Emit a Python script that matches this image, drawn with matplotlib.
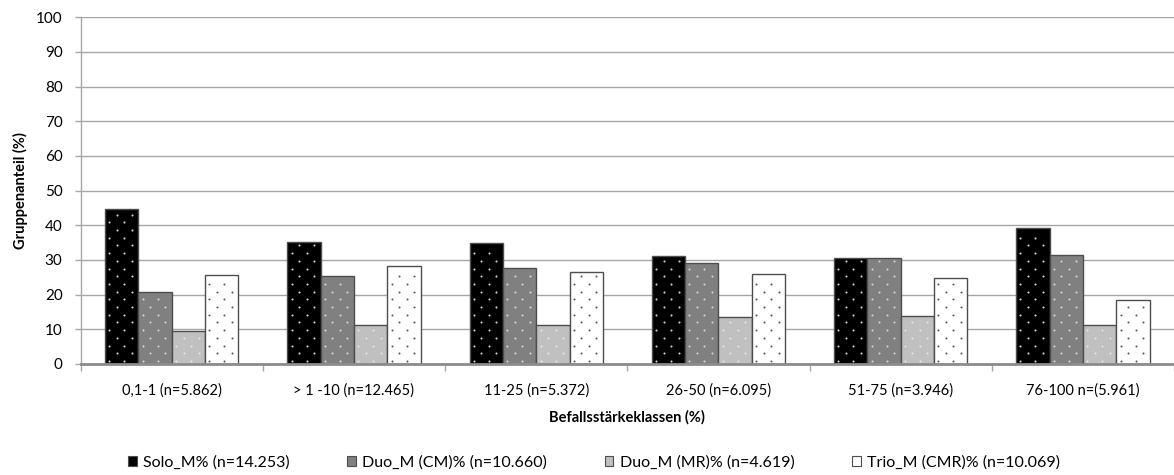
import numpy as np
import matplotlib
matplotlib.use("Agg")
import matplotlib.pyplot as plt
from matplotlib.patches import Patch

plt.rcParams["font.family"] = ["Lato", "DejaVu Sans"]

# Infestation classes (x axis)
categories = ["0,1-1 (n=5.862)", "> 1 -10 (n=12.465)", "11-25 (n=5.372)",
              "26-50 (n=6.095)", "51-75 (n=3.946)", "76-100 n=(5.961)"]

# Group shares (%) per class
solo_m = [44.6, 35.1, 34.8, 31.2, 30.7, 39.1]
duo_cm = [20.8, 25.5, 27.6, 29.0, 30.7, 31.3]
duo_mr = [9.6, 11.2, 11.2, 13.6, 13.9, 11.2]
trio_cmr = [25.6, 28.3, 26.6, 26.1, 24.9, 18.5]

series_labels = ["Solo_M% (n=14.253)", "Duo_M (CM)% (n=10.660)",
                 "Duo_M (MR)% (n=4.619)", "Trio_M (CMR)% (n=10.069)"]

series = [solo_m, duo_cm, duo_mr, trio_cmr]
fills = ["#000000", "#808080", "#c0c0c0", "#ffffff"]
dot_colors = ["#d8d8d8", "#d4d4d4", "#e6e6e6", "#5a5a5a"]
edge = "#4d4d4d"
grid_c = "#a6a6a6"

fig = plt.figure(figsize=(11.74, 4.75), dpi=100)
ax = fig.add_axes([0.0687, 0.2337, 0.9313, 0.7299])

n_cat = len(categories)
x = np.arange(n_cat)
bw = 0.183
offsets = (np.arange(4) - 1.5) * bw

ax.set_xlim(-0.5, n_cat - 0.5)
ax.set_ylim(0, 100)

bars_all = []
for vals, fc, off in zip(series, fills, offsets):
    bars = ax.bar(x + off, vals, width=bw, color=fc, edgecolor=edge,
                  linewidth=1.0, zorder=3)
    bars_all.append(bars)

# Dotted fill pattern, laid out in pixel space inside each bar
to_px = ax.transData
to_data = ax.transData.inverted()
col_step, row_step = 15.0, 7.7
for bars, dc in zip(bars_all, dot_colors):
    for b in bars:
        (x0, y0), (x1, y1) = to_px.transform([(b.get_x(), 0),
                                              (b.get_x() + b.get_width(), b.get_height())])
        pts = []
        r = 0
        yy = y0 + 3.0
        while yy < y1 - 3.0:
            xx = x0 + (4.3 if r % 2 == 0 else 11.8)
            while xx < x1 - 2.5:
                pts.append((xx, yy))
                xx += col_step
            yy += row_step
            r += 1
        if pts:
            d = to_data.transform(np.array(pts))
            ax.scatter(d[:, 0], d[:, 1], s=2.2, c=dc, marker="o",
                       linewidths=0, zorder=4)

# Axes styling
ax.set_yticks(np.arange(0, 101, 10))
ax.yaxis.grid(True, color=grid_c, linewidth=1.0, zorder=0)
ax.set_axisbelow(True)
ax.set_xticks(np.arange(-0.5, n_cat, 1.0))
ax.set_xticklabels([])
ax.set_xticks(x, minor=True)
ax.set_xticklabels(categories, minor=True, fontsize=10.5)
ax.tick_params(axis="x", which="major", length=5, color=grid_c, width=1)
ax.tick_params(axis="x", which="minor", length=0, pad=14)
ax.tick_params(axis="y", length=4, color=grid_c, width=1, labelsize=11, pad=9)

for s in ["top", "right"]:
    ax.spines[s].set_visible(False)
ax.spines["left"].set_color(grid_c)
ax.spines["left"].set_linewidth(1.0)
ax.spines["bottom"].set_color("#8c8c8c")
ax.spines["bottom"].set_linewidth(2.0)
ax.spines["bottom"].set_zorder(5)

ax.set_xlabel("Befallsstärkeklassen (%)", fontsize=10.5, fontweight="bold", labelpad=9)
ax.set_ylabel("Gruppenanteil (%)", fontsize=10.5, fontweight="bold", labelpad=6)

handles = [Patch(facecolor=fc, edgecolor=edge, linewidth=0.8) for fc in fills]
fig.legend(handles, series_labels, loc="center", bbox_to_anchor=(0.506, 0.027),
           ncol=4, frameon=False, fontsize=11.5, handlelength=0.55,
           handleheight=0.55, handletextpad=0.4, columnspacing=3.6)

fig.savefig("out.png", dpi=100)
